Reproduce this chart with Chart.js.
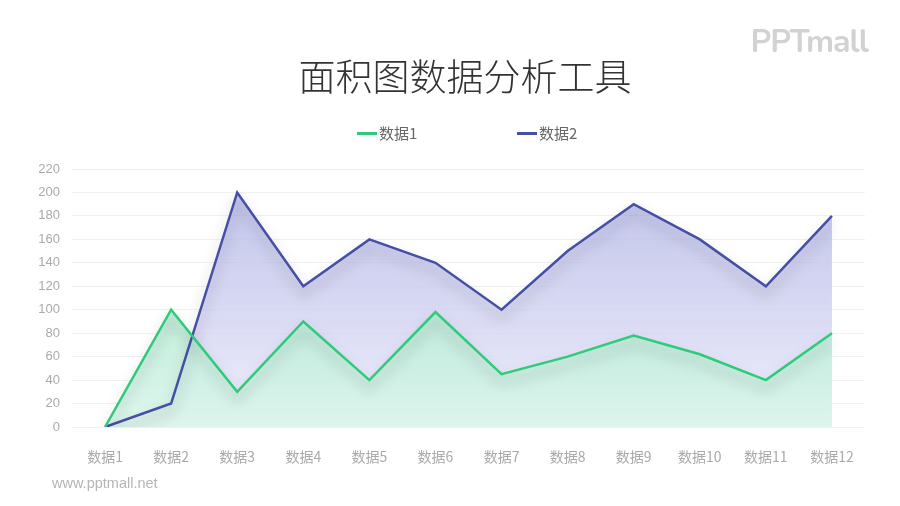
<!DOCTYPE html>
<html>
<head>
<meta charset="utf-8">
<script src="https://cdn.jsdelivr.net/npm/chart.js@4/dist/chart.umd.min.js"></script>
<style>
  html, body { margin: 0; padding: 0; background: #fff; }
  body { width: 900px; height: 506px; position: relative; overflow: hidden;
         font-family: "Noto Sans CJK SC", "Noto Sans", sans-serif; }
  #title { position: absolute; left: 0; width: 930px; top: 50px; text-align: center;
           font-size: 37px; font-weight: 300; color: #333; line-height: 50px; }
  #logo { position: absolute; right: 32px; top: 20px; font-family: "Nunito", "Lato", sans-serif;
          font-size: 32px; font-weight: bold; color: #d2d2d2; letter-spacing: -1px; }
  .leg { position: absolute; top: 122px; font-size: 15px; color: #666; line-height: 22px; }
  .leg span { display: inline-block; width: 20px; height: 3px; vertical-align: middle;
              margin-right: 2px; position: relative; top: -1px; }
  #footer { position: absolute; left: 52px; top: 475px; font-size: 14.5px; color: #b5b5b5;
            font-family: "Liberation Sans", Arial, sans-serif; }
  #wrap { position: absolute; left: 0; top: 0; width: 900px; height: 506px; }
</style>
</head>
<body>
<div id="wrap"><canvas id="chartId" width="900" height="506"></canvas></div>
<div id="title">面积图数据分析工具</div>
<div id="logo">PPTmall</div>
<div class="leg" style="left:357px"><span style="background:#2ecb7a"></span>数据1</div>
<div class="leg" style="left:517px"><span style="background:#454fa6"></span>数据2</div>
<div id="footer">www.pptmall.net</div>
<script>
const categories = ['数据1', '数据2', '数据3', '数据4', '数据5', '数据6', '数据7', '数据8', '数据9', '数据10', '数据11', '数据12'];
const seriesNames = ['数据1', '数据2'];
const series1 = [0, 100, 30, 90, 40, 98, 45, 60, 78, 62, 40, 80];
const series2 = [0, 20, 200, 120, 160, 140, 100, 150, 190, 160, 120, 180];
const yTicks = [0, 20, 40, 60, 80, 100, 120, 140, 160, 180, 200, 220];

function gradient(ctx, top, bottom) {
  var chart = ctx.chart;
  var area = chart.chartArea;
  if (!area) return top;
  var g = chart.ctx.createLinearGradient(0, area.top, 0, area.bottom);
  g.addColorStop(0, top);
  g.addColorStop(1, bottom);
  return g;
}

// soft shadow under the lines (fills are drawn before, without shadow)
var shadowPlugin = {
  id: 'lineShadow',
  beforeDatasetDraw: function (chart) {
    var c = chart.ctx;
    c.save();
    c.shadowColor = 'rgba(0,0,0,0.32)';
    c.shadowBlur = 14;
    c.shadowOffsetY = 8;
  },
  afterDatasetDraw: function (chart) {
    chart.ctx.restore();
  }
};

var chrt = document.getElementById('chartId').getContext('2d');
new Chart(chrt, {
  type: 'line',
  data: {
    labels: categories,
    datasets: [{
      label: seriesNames[0],
      data: series1,
      borderColor: '#2ecb7a',
      borderWidth: 2.5,
      pointRadius: 0,
      tension: 0,
      fill: 'origin',
      backgroundColor: function (ctx) { return gradient(ctx, 'rgba(140,222,185,0.8)', 'rgba(220,246,236,0.9)'); }
    }, {
      label: seriesNames[1],
      data: series2,
      borderColor: '#454fa6',
      borderWidth: 2.5,
      pointRadius: 0,
      tension: 0,
      fill: 'origin',
      backgroundColor: function (ctx) { return gradient(ctx, 'rgba(168,172,225,0.75)', 'rgba(236,236,252,0.8)'); }
    }]
  },
  options: {
    responsive: false,
    animation: false,
    devicePixelRatio: 1,
    layout: { padding: { top: 169, right: 35, bottom: 39, left: 0 } },
    plugins: {
      legend: { display: false },
      tooltip: { enabled: false },
      filler: { drawTime: 'beforeDatasetsDraw' }
    },
    scales: {
      x: {
        offset: true,
        grid: { display: false },
        border: { display: false },
        ticks: { color: '#aaa', font: { size: 14, family: '"Noto Sans CJK SC"' }, padding: 13, maxRotation: 0 },
        afterFit: function (s) { s.height = 40; }
      },
      y: {
        min: 0,
        max: 220,
        afterBuildTicks: function (s) { s.ticks = yTicks.map(function (v) { return { value: v }; }); },
        grid: { color: '#f1f1f1', drawTicks: false },
        border: { display: false },
        ticks: { color: '#aaa', font: { size: 13, family: '"Liberation Sans"' }, padding: 12 },
        afterFit: function (s) { s.width = 72; }
      }
    }
  },
  plugins: [shadowPlugin]
});
</script>
</body>
</html>
